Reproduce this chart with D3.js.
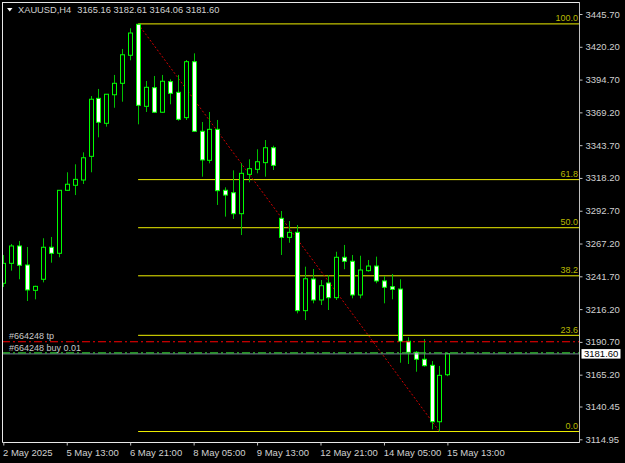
<!DOCTYPE html>
<html>
<head>
<meta charset="utf-8">
<script src="https://cdn.jsdelivr.net/npm/d3@7"></script>
<style>
html,body{margin:0;padding:0;background:#000;}
svg{display:block;}
text{font-family:"Liberation Sans",Arial,sans-serif;}
</style>
</head>
<body>
<svg id="chart" width="625" height="463"></svg>
<script>
// ---- data (XAUUSD, H4) ----
const opens  = [3236.3,3251.8,3265.3,3250.5,3230.8,3239.4,3264.3,3259.6,3308.6,3312.5,
                3316.6,3335.0,3380.1,3360.7,3382.9,3391.8,3413.6,3437.7,3373.9,3388.4,
                3369.3,3393.1,3384.8,3365.1,3408.6,3354.5,3331.9,3356.0,3308.6,3306.7,
                3290.4,3321.0,3324.9,3330.1,3341.7,3286.8,3272.0,3275.9,3215.0,3239.6,
                3223.3,3236.5,3225.1,3256.5,3253.4,3227.2,3246.1,3249.7,3238.1,3233.6,
                3231.8,3191.2,3182.6,3177.2,3172.5,3128.6,3165.16];
const highs  = [3258.3,3266.8,3269.2,3264.5,3234.4,3271.3,3272.3,3308.8,3322.6,3328.8,
                3338.1,3381.9,3387.4,3383.5,3398.3,3418.5,3434.6,3438.0,3393.6,3397.5,
                3398.3,3394.9,3398.3,3409.9,3415.1,3361.7,3369.5,3363.3,3310.9,3324.1,
                3329.6,3332.7,3340.5,3347.7,3343.3,3292.5,3284.7,3281.6,3249.2,3247.4,
                3238.8,3242.7,3260.8,3266.1,3258.3,3257.7,3254.4,3257.0,3241.9,3243.5,
                3239.4,3194.3,3183.6,3192.9,3175.8,3172.0,3182.61];
const lows   = [3233.4,3246.1,3239.4,3222.5,3223.8,3237.0,3252.3,3256.5,3308.3,3304.9,
                3313.5,3322.6,3349.8,3358.1,3372.8,3377.5,3409.7,3359.9,3369.5,3368.9,
                3368.9,3375.5,3362.7,3363.3,3354.2,3319.2,3329.6,3297.2,3288.1,3286.3,
                3273.8,3314.8,3321.8,3319.2,3324.4,3258.3,3267.8,3212.9,3207.7,3220.7,
                3219.4,3215.5,3223.3,3247.2,3224.6,3224.6,3245.3,3236.3,3220.7,3223.8,
                3174.5,3173.5,3167.5,3171.5,3122.7,3121.0,3164.06];
const closes = [3251.8,3265.3,3250.3,3231.1,3233.9,3264.3,3259.6,3308.6,3313.3,3317.1,
                3333.9,3379.4,3361.5,3383.3,3391.8,3414.0,3430.9,3374.7,3388.7,3369.3,
                3393.4,3384.0,3363.8,3408.6,3354.5,3332.2,3356.0,3308.3,3304.9,3290.4,
                3321.8,3325.4,3330.8,3341.7,3328.0,3272.0,3275.9,3215.0,3239.8,3223.3,
                3234.4,3225.1,3256.5,3253.4,3227.2,3246.6,3249.7,3238.1,3233.2,3231.6,
                3191.2,3182.6,3177.2,3172.2,3128.6,3164.7,3181.60];

const xTickIndex  = [0, 8, 16, 24, 32, 40, 48, 56];
const xTickLabels = ["2 May 2025","5 May 13:00","6 May 21:00","8 May 05:00",
                     "9 May 13:00","12 May 21:00","14 May 05:00","15 May 13:00"];
const yTickValues = [3445.70,3420.20,3394.70,3369.20,3343.70,3318.20,3292.70,
                     3267.20,3241.70,3216.20,3190.70,3165.20,3140.45,3114.95];

const fibHighIndex = 17, fibLowIndex = 55;
const fibHigh = 3438.0, fibLow = 3121.0;
const fibLevels = [0, 0.236, 0.382, 0.5, 0.618, 1.0];
const fibLabels = ["0.0","23.6","38.2","50.0","61.8","100.0"];

const bidPrice = 3181.60;
const tpPrice = 3190.8;
const buyPrice = 3182.2;
const headerSymbol = "XAUUSD,H4";
const headerValues = ["3165.16","3182.61","3164.06","3181.60"];
const orderTpLabel = "#664248 tp";
const orderBuyLabel = "#664248 buy 0.01";

// ---- layout ----
const svg = d3.select("#chart");
const L = 2, T = 2, R = 580, B = 442;
const n = opens.length;
const x = d3.scaleLinear().domain([0, 56]).range([3.3, 447.4]);
const y = d3.scaleLinear().domain([3114.95, 3445.70]).range([439.3, 14]);

const plot = svg.append("g");
svg.append("defs").append("clipPath").attr("id","clip")
  .append("rect").attr("x", L+1).attr("y", T+1).attr("width", R-L-1).attr("height", B-T-1);
const g = plot.append("g").attr("clip-path","url(#clip)");

// fib levels
fibLevels.forEach((lv,i) => {
  const p = fibLow + lv*(fibHigh - fibLow);
  const yy = y(p);
  g.append("line").attr("x1", x(fibHighIndex)).attr("x2", R).attr("y1", yy).attr("y2", yy)
    .attr("stroke", "#f0f000").attr("stroke-width", 1);
  svg.append("text").attr("x", 578).attr("y", yy - 2.5).attr("text-anchor","end")
    .attr("font-size", 9).attr("fill", "#b8b800").text(fibLabels[i]);
});

// fib trend line
g.append("line").attr("x1", x(fibHighIndex)).attr("y1", y(fibHigh))
  .attr("x2", x(fibLowIndex)).attr("y2", y(fibLow))
  .attr("stroke", "#d00000").attr("stroke-width", 1).attr("stroke-dasharray", "2,2");

// candles
const idx = d3.range(n);
const bw = 5;
g.selectAll("line.wick").data(idx).join("line").attr("class","wick")
  .attr("x1", i => Math.round(x(i)) + 0.5).attr("x2", i => Math.round(x(i)) + 0.5)
  .attr("y1", i => y(highs[i])).attr("y2", i => y(lows[i]))
  .attr("stroke", "#00c000").attr("stroke-width", 1);
g.selectAll("rect.body").data(idx).join("rect").attr("class","body")
  .attr("x", i => Math.round(x(i)) - 2 + 0.5)
  .attr("y", i => y(Math.max(opens[i], closes[i])))
  .attr("width", bw - 1)
  .attr("height", i => Math.max(1, Math.abs(y(opens[i]) - y(closes[i]))))
  .attr("fill", i => closes[i] >= opens[i] ? "#000" : "#ffffff")
  .attr("stroke", "#00ff00").attr("stroke-width", 1);

// bid line
g.append("line").attr("x1", L).attr("x2", R).attr("y1", y(bidPrice)+0.3).attr("y2", y(bidPrice)+0.3)
  .attr("stroke", "#778899").attr("stroke-width", 1);
// buy order line
g.append("line").attr("x1", L).attr("x2", R).attr("y1", y(buyPrice)).attr("y2", y(buyPrice))
  .attr("stroke", "#30c030").attr("stroke-width", 1.2).attr("stroke-dasharray", "8,3,2,3");
// tp line
g.append("line").attr("x1", L).attr("x2", R).attr("y1", y(tpPrice)).attr("y2", y(tpPrice))
  .attr("stroke", "#ff0000").attr("stroke-width", 1.2).attr("stroke-dasharray", "8,3,2,3");

svg.append("text").attr("x", 9).attr("y", y(tpPrice) - 2.5).attr("font-size", 9)
  .attr("fill", "#c8c8c8").text(orderTpLabel);
svg.append("text").attr("x", 9).attr("y", y(buyPrice) - 2.3).attr("font-size", 9)
  .attr("fill", "#c8c8c8").text(orderBuyLabel);

// frame
svg.append("path").attr("d", `M${L+0.5},${T} V${B+0.5} H${R} M${L},${T+0.5} H${R}`)
  .attr("fill","none").attr("stroke","#e8e8e8").attr("stroke-width",1);
svg.append("line").attr("x1", R-0.5).attr("x2", R-0.5).attr("y1", T).attr("y2", B+1)
  .attr("stroke","#c0c0c0").attr("stroke-width",1);

// y axis
const yAxis = d3.axisRight(y).tickValues(yTickValues).tickSize(3).tickPadding(3)
  .tickFormat(d3.format(".2f"));
const ya = svg.append("g").attr("transform", `translate(${R-0.5},0)`).call(yAxis);
ya.select(".domain").remove();
ya.selectAll(".tick line").attr("stroke","#c0c0c0");
ya.selectAll(".tick text").attr("fill","#d0d0d0").attr("font-size", 9.5)
  .attr("font-family", "Liberation Sans, Arial, sans-serif");

// x axis
const xAxis = d3.axisBottom(x).tickValues(xTickIndex).tickSize(3).tickPadding(4)
  .tickFormat((d,i) => xTickLabels[i]);
const xa = svg.append("g").attr("transform", `translate(0,${B+0.5})`).call(xAxis);
xa.select(".domain").remove();
xa.selectAll(".tick line").attr("stroke","#c0c0c0");
xa.selectAll(".tick text").attr("fill","#d0d0d0").attr("font-size", 9.5)
  .attr("text-anchor","start").attr("dx", "-0.8")
  .attr("font-family", "Liberation Sans, Arial, sans-serif");

// bid label
const bidY = y(bidPrice);
svg.append("rect").attr("x", 581.5).attr("y", bidY - 4.5).attr("width", 39).attr("height", 9.5)
  .attr("fill", "#ffffff");
svg.append("text").attr("x", 584).attr("y", bidY).attr("dy","0.35em").attr("font-size", 9.5)
  .attr("fill", "#000").text(d3.format(".2f")(bidPrice));

// header
svg.append("path").attr("d", "M7,8 L12.5,8 L9.75,11.5 Z").attr("fill", "#ffffff");
const sym = svg.append("text").attr("x", 18).attr("y", 13.3).attr("font-size", 9.3)
  .attr("fill", "#d0d0d0").text(headerSymbol);
const symEnd = 18 + sym.node().getComputedTextLength();
svg.append("text").attr("x", Math.max(70.5, symEnd + 6)).attr("y", 13.3).attr("font-size", 9.3)
  .attr("fill", "#d0d0d0").text(headerValues.join(" "));
</script>
</body>
</html>
